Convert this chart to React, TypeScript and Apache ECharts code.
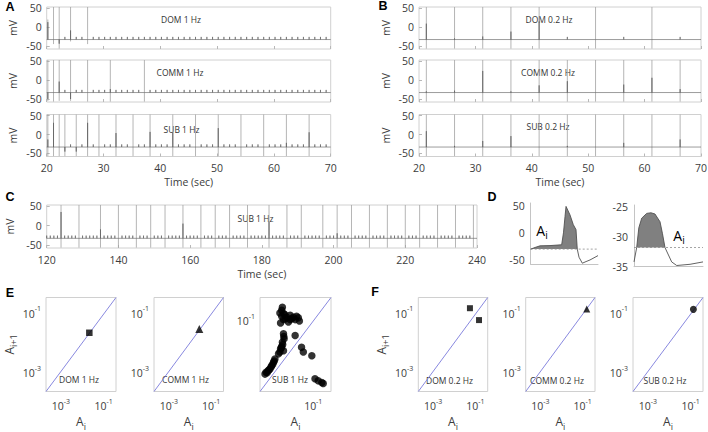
import React, { useEffect, useRef } from 'react';
import * as echarts from 'echarts';

const FONT = '"Open Sans", "Noto Sans", sans-serif';
const TXT = '#3c3c3c';
const BOX = '#d0d0d0';
const TRACE_DARK = '#5a5a5a';
const TRACE_LIGHT = '#a2a2a2';
const DIAG = '#7b7bdb';

// ---------- voltage traces ----------
const mvTicks = [-50, 0, 50];
const V_MIN = -58;
const V_MAX = 53;
const BASELINE_MV = -33;
const STIM_BUMP_MV = -26;

const stim1Hz_A = [20.2, 21.2, 22.2, 23.2, 24.2, 25.2, 26.2, 27.2, 28.2, 29.2, 30.2, 31.2, 32.2, 33.2, 34.2, 35.2, 36.2, 37.2, 38.2, 39.2,
  40.2, 41.2, 42.2, 43.2, 44.2, 45.2, 46.2, 47.2, 48.2, 49.2, 50.2, 51.2, 52.2, 53.2, 54.2, 55.2, 56.2, 57.2, 58.2, 59.2,
  60.2, 61.2, 62.2, 63.2, 64.2, 65.2, 66.2, 67.2, 68.2, 69.2];
const stim02Hz_B = [21.3, 26.3, 31.3, 36.3, 41.3, 46.3, 51.3, 56.3, 61.3, 66.3];
const stim1Hz_C = [120, 121, 122, 123, 124, 125, 126, 127, 128, 129, 130, 131, 132, 133, 134, 135, 136, 137, 138, 139,
  140, 141, 142, 143, 144, 145, 146, 147, 148, 149, 150, 151, 152, 153, 154, 155, 156, 157, 158, 159,
  160, 161, 162, 163, 164, 165, 166, 167, 168, 169, 170, 171, 172, 173, 174, 175, 176, 177, 178, 179,
  180, 181, 182, 183, 184, 185, 186, 187, 188, 189, 190, 191, 192, 193, 194, 195, 196, 197, 198, 199,
  200, 201, 202, 203, 204, 205, 206, 207, 208, 209, 210, 211, 212, 213, 214, 215, 216, 217, 218, 219,
  220, 221, 222, 223, 224, 225, 226, 227, 228, 229, 230, 231, 232, 233, 234, 235, 236, 237, 238, 239];

// A: DOM 1 Hz
const dom1_spikeT = [20.2, 21.2, 22.2, 24.2, 27.2];
const dom1_top = [20, 53, 53, 53, 53];
const dom1_bottom = [-33, -45, -57, -38, -45];
const dom1_dark = [13, -33, -44, -9, -33];
// A: COMM 1 Hz
const comm1_spikeT = [20.2, 21.2, 22.2, 24.2, 27.2, 31.2, 37.2];
const comm1_top = [53, 53, 53, 53, 53, 53, 53];
const comm1_bottom = [-55, -57, -55, -55, -57, -57, -57];
const comm1_dark = [-50, -33, -4, -50, -33, -24, -33];
// A: SUB 1 Hz
const sub1_spikeT = [20.2, 21.2, 22.2, 23.2, 25.2, 27.2, 29.2, 32.2, 35.2, 38.2, 42.2, 46.2, 50.2, 54.2, 58.2, 62.2, 66.2];
const sub1_top = [53, 53, 53, 53, 53, 53, 53, 53, 53, 53, 53, 53, 53, 53, 53, 53, 53];
const sub1_bottom = [-57, -57, -57, -57, -57, -57, -57, -57, -57, -57, -57, -57, -57, -57, -57, -57, -57];
const sub1_dark = [-13, 31, -33, -45, -45, 31, -33, 4, -33, 7, 6, -33, 17, -33, -33, -22, 6];
// B: DOM 0.2 Hz
const dom02_spikeT = [21.3, 26.3, 31.3, 36.3, 41.3, 51.3, 61.3];
const dom02_top = [53, 53, 53, 53, 53, 53, 53];
const dom02_bottom = [-57, -57, -57, -57, -57, -57, -57];
const dom02_dark = [9, -30, -25, -12, 15, -33, -33];
// B: COMM 0.2 Hz
const comm02_spikeT = [21.3, 26.3, 31.3, 36.3, 41.3, 46.3, 51.3, 56.3, 61.3, 66.3];
const comm02_top = [53, 53, 53, 53, 53, 53, 53, 53, 53, 53];
const comm02_bottom = [-57, -57, -57, -57, -57, -57, -57, -57, -57, -57];
const comm02_dark = [-30, -28, 24, -30, -14, -3, -33, -12, 6, -24];
// B: SUB 0.2 Hz
const sub02_spikeT = [21.3, 26.3, 31.3, 36.3, 41.3, 46.3, 51.3, 56.3, 61.3, 66.3];
const sub02_top = [53, 53, 53, 53, 53, 53, 53, 53, 53, 53];
const sub02_bottom = [-57, -57, -57, -57, -57, -57, -57, -57, -57, -57];
const sub02_dark = [9, -30, -17, -4, -33, -30, -33, -22, -33, -13];
// C: SUB 1 Hz, 120-240 s
const subC_spikeT = [124, 129, 135, 140, 145, 149, 153, 158, 163, 167, 171, 176, 182, 187, 191, 197, 201, 205, 210, 215, 220, 224, 229, 234, 239];
const subC_top = [53, 53, 53, 53, 53, 53, 53, 53, 53, 53, 53, 53, 53, 53, 53, 53, 53, 53, 53, 53, 53, 53, 53, 53, 53];
const subC_bottom = [-57, -57, -57, -57, -57, -57, -57, -57, -57, -57, -57, -57, -57, -57, -57, -57, -57, -57, -57, -57, -57, -57, -57, -57, -57];
const subC_dark = [35, -33, -10, -33, -33, -33, -33, 5, -33, -33, -33, -33, 10, -33, -33, -33, -20, -33, -33, -33, -33, -33, -33, -33, -33];

// ---------- D: single events ----------
const dL_t = [0, 6.4, 13.8, 28.7, 46, 48.7, 51, 52.5, 58.4, 63.3, 67.3, 69.2, 71.8, 76.7, 82.2, 88.1, 100];
const dL_v = [-30, -27, -24, -23.5, -22, 0, 30, 48.7, 33, 15, 6, -30, -45, -56, -53, -50, -42];
const dL_threshold = -30;
const dL_ticks = [-50, 0, 50];
const dR_t = [0, 3.9, 7, 11.2, 18.4, 24.6, 30.4, 37.7, 41.3, 44.9, 54.6, 61.9, 81.2, 100];
const dR_v = [-34.2, -31.8, -28.5, -26.9, -26.1, -26.0, -26.2, -27.5, -29.5, -31.8, -34.2, -34.8, -34.6, -34.2];
const dR_threshold = -31.8;
const dR_ticks = [-35, -30, -25];

// ---------- E / F: return maps ----------
const dom1Hz_Ai = [0.0214];
const dom1Hz_Ai1 = [0.0224];
const comm1Hz_Ai = [0.0275];
const comm1Hz_Ai1 = [0.030];
const sub1Hz_Ai = [0.0135, 0.0129, 0.0115, 0.0145, 0.0129, 0.0158, 0.0178, 0.0224, 0.0275, 0.0339, 0.0380, 0.0224, 0.0309, 0.0407, 0.0145, 0.0120, 0.0200, 0.0166, 0.0251,
  0.0145, 0.0151, 0.0135, 0.0129, 0.0120, 0.0115, 0.0105, 0.0145, 0.0309, 0.0468, 0.0525, 0.0912, 0.0138, 0.0126, 0.0148,
  0.00832, 0.00759, 0.00676, 0.00603, 0.00537, 0.00468, 0.00437, 0.00501, 0.00562, 0.00646, 0.00724, 0.00794,
  0.112, 0.138, 0.174, 0.191];
const sub1Hz_Ai1 = [0.195, 0.170, 0.148, 0.145, 0.126, 0.138, 0.120, 0.132, 0.120, 0.126, 0.117, 0.107, 0.107, 0.100, 0.107, 0.0912, 0.0955, 0.112, 0.112,
  0.0537, 0.0417, 0.0355, 0.0288, 0.0257, 0.0219, 0.0200, 0.0234, 0.0490, 0.0275, 0.0219, 0.0182, 0.0316, 0.0269, 0.0468,
  0.0155, 0.0132, 0.0112, 0.00955, 0.00871, 0.00813, 0.00741, 0.00794, 0.00912, 0.0105, 0.0120, 0.0141,
  0.00589, 0.00537, 0.00490, 0.00468];
const dom02Hz_Ai = [0.055, 0.148];
const dom02Hz_Ai1 = [0.151, 0.060];
const comm02Hz_Ai = [0.155];
const comm02Hz_Ai1 = [0.141];
const sub02Hz_Ai = [0.135];
const sub02Hz_Ai1 = [0.138];

const logX = [Math.pow(10, -3.7), Math.pow(10, -0.42)];
const logY = [Math.pow(10, -3.63), Math.pow(10, -0.46)];
const logSub = [Math.pow(10, -2.5), Math.pow(10, -0.5)];
const expLabels = [-3, -1];
const expLabelsSub = [-1];

// ---------- helpers ----------
const rich = (size: number) => ({
  b: { fontSize: size, lineHeight: size + 6, fontFamily: FONT, color: TXT },
  sub: { fontSize: Math.round(size * 0.72), lineHeight: 8, verticalAlign: 'bottom', fontFamily: FONT, color: TXT },
  sup: { fontSize: Math.round(size * 0.68), lineHeight: 8, verticalAlign: 'top', fontFamily: FONT, color: TXT },
});

function darkTrace(stims: number[], spikeT: number[], dark: number[], x0: number, x1: number) {
  const pts: any[] = [[x0, BASELINE_MV]];
  stims.forEach((t) => {
    const i = spikeT.indexOf(t);
    const v = i >= 0 ? dark[i] : STIM_BUMP_MV;
    pts.push([t, BASELINE_MV], [t, v], [t, BASELINE_MV]);
  });
  pts.push([x1, BASELINE_MV]);
  return pts;
}
function lightSpikes(spikeT: number[], top: number[], bottom: number[]) {
  const pts: any[] = [];
  spikeT.forEach((t, i) => {
    pts.push([t, bottom[i]], [t, top[i]], [t, '-']);
  });
  return pts;
}

const axisText = { color: TXT, fontSize: 10.5, fontFamily: FONT };

export default function App() {
  const ref = useRef<HTMLDivElement>(null);
  useEffect(() => {
    document.body.style.margin = '0';
    if (!ref.current) return;
    const chart = echarts.init(ref.current, undefined, { renderer: 'svg' });

    const grids: any[] = [];
    const xAxes: any[] = [];
    const yAxes: any[] = [];
    const series: any[] = [];

    const addTrace = (left: number, top: number, width: number, height: number, xmin: number, xmax: number, xint: number, showX: boolean,
      stims: number[], spikeT: number[], tops: number[], bottoms: number[], dark: number[]) => {
      const i = grids.length;
      grids.push({ left, top, width, height, show: true, borderColor: BOX, borderWidth: 1, backgroundColor: 'transparent', outerBoundsMode: 'none' });
      xAxes.push({
        gridIndex: i, type: 'value', min: xmin, max: xmax, interval: xint,
        axisLine: { show: false, onZero: false },
        axisTick: { show: true, inside: true, length: 3, lineStyle: { color: '#b8b8b8' } },
        splitLine: { show: false },
        axisLabel: { show: showX, margin: 6, ...axisText },
        name: showX ? 'Time (sec)' : '', nameLocation: 'middle', nameGap: 20, nameTextStyle: axisText,
      });
      yAxes.push({
        gridIndex: i, type: 'value', min: V_MIN, max: V_MAX,
        axisLine: { show: false, onZero: false },
        axisTick: { show: true, inside: true, length: 3, lineStyle: { color: '#b8b8b8' }, customValues: mvTicks },
        splitLine: { show: false },
        axisLabel: { customValues: mvTicks, margin: 5, ...axisText, formatter: (v: number) => (mvTicks.indexOf(v) >= 0 ? String(v) : '') },
        name: 'mV', nameLocation: 'middle', nameRotate: 90, nameGap: 28, nameTextStyle: axisText,
      });
      series.push({
        type: 'line', xAxisIndex: i, yAxisIndex: i, data: lightSpikes(spikeT, tops, bottoms), symbol: 'none', silent: true,
        connectNulls: false, lineStyle: { width: 0.8, color: TRACE_LIGHT }, z: 2,
      });
      series.push({
        type: 'line', xAxisIndex: i, yAxisIndex: i, data: darkTrace(stims, spikeT, dark, xmin, xmax), symbol: 'none', silent: true,
        lineStyle: { width: 0.6, color: TRACE_DARK }, z: 3,
      });
    };

    const aL = 46.7, aW = 284, bL = 419, bW = 282, tops = [7, 60, 114.5], h = 42;
    addTrace(aL, tops[0], aW, h, 20, 70, 10, false, stim1Hz_A, dom1_spikeT, dom1_top, dom1_bottom, dom1_dark);
    addTrace(aL, tops[1], aW, h, 20, 70, 10, false, stim1Hz_A, comm1_spikeT, comm1_top, comm1_bottom, comm1_dark);
    addTrace(aL, tops[2], aW, h, 20, 70, 10, true, stim1Hz_A, sub1_spikeT, sub1_top, sub1_bottom, sub1_dark);
    addTrace(bL, tops[0], bW, h, 20, 70, 10, false, stim02Hz_B, dom02_spikeT, dom02_top, dom02_bottom, dom02_dark);
    addTrace(bL, tops[1], bW, h, 20, 70, 10, false, stim02Hz_B, comm02_spikeT, comm02_top, comm02_bottom, comm02_dark);
    addTrace(bL, tops[2], bW, h, 20, 70, 10, true, stim02Hz_B, sub02_spikeT, sub02_top, sub02_bottom, sub02_dark);
    addTrace(aL, 205, 430.3, 43, 120, 240, 20, true, stim1Hz_C, subC_spikeT, subC_top, subC_bottom, subC_dark);

    // D panels
    const addD = (left: number, top: number, width: number, height: number, ymin: number, ymax: number, ticks: number[],
      t: number[], v: number[], thr: number) => {
      const i = grids.length;
      grids.push({ left, top, width, height, show: false, outerBoundsMode: 'none' });
      xAxes.push({
        gridIndex: i, type: 'value', min: 0, max: 100,
        axisLine: { show: true, onZero: false, lineStyle: { color: '#c4c4c4', width: 1 } },
        axisTick: { show: false }, axisLabel: { show: false }, splitLine: { show: false },
      });
      yAxes.push({
        gridIndex: i, type: 'value', min: ymin, max: ymax,
        axisLine: { show: true, onZero: false, lineStyle: { color: '#c4c4c4', width: 1 } },
        axisTick: { show: false, customValues: ticks }, splitLine: { show: false },
        axisLabel: { customValues: ticks, margin: 6, ...axisText, formatter: (val: number) => (ticks.indexOf(val) >= 0 ? String(val) : '') },
      });
      // shaded part above threshold
      const area: any[] = [];
      let started = false;
      for (let k = 0; k < t.length; k++) {
        if (v[k] >= thr - 1e-9) { area.push([t[k], v[k]]); started = true; }
        else if (started) break;
      }
      series.push({
        type: 'line', xAxisIndex: i, yAxisIndex: i, data: area, symbol: 'none', silent: true,
        lineStyle: { width: 0 }, areaStyle: { color: '#808080', opacity: 1, origin: thr }, z: 2,
      });
      series.push({
        type: 'line', xAxisIndex: i, yAxisIndex: i, data: [[0, thr], [100, thr]], symbol: 'none', silent: true,
        lineStyle: { width: 0.8, color: '#8c8c8c', type: [2, 2] }, z: 3,
      });
      series.push({
        type: 'line', xAxisIndex: i, yAxisIndex: i, data: t.map((x, k) => [x, v[k]]), symbol: 'none', silent: true,
        lineStyle: { width: 0.9, color: '#505050' }, z: 4,
      });
    };
    addD(530.7, 203, 67.3, 61.3, -58, 55, dL_ticks, dL_t, dL_v, dL_threshold);
    addD(634, 205, 69, 61.7, -35, -24.7, dR_ticks, dR_t, dR_v, dR_threshold);

    // E / F panels
    const logFmt = (labels: number[]) => (val: number) => {
      const l = Math.log10(val);
      const e = Math.round(l);
      if (Math.abs(l - e) > 1e-6 || labels.indexOf(e) < 0) return '';
      return `{b|10}{sup|${e}}`;
    };
    const addMap = (left: number, width: number, xr: number[], yr: number[], labels: number[], showYName: boolean,
      ax: number[], ay: number[], symbol: string, size: number) => {
      const i = grids.length;
      grids.push({ left, top: 297.5, width, height: 94, show: true, borderColor: BOX, borderWidth: 1, backgroundColor: 'transparent', outerBoundsMode: 'none' });
      xAxes.push({
        gridIndex: i, type: 'log', logBase: 10, min: xr[0], max: xr[1],
        axisLine: { show: false, onZero: false }, axisTick: { show: false }, splitLine: { show: false },
        axisLabel: { margin: 6, formatter: logFmt(labels), rich: rich(10.5) },
        name: '{b|A}{sub|i}', nameLocation: 'middle', nameGap: 21, nameTextStyle: { rich: rich(12) },
      });
      yAxes.push({
        gridIndex: i, type: 'log', logBase: 10, min: yr[0], max: yr[1],
        axisLine: { show: false, onZero: false }, axisTick: { show: false }, splitLine: { show: false },
        axisLabel: { margin: 5, formatter: logFmt(labels), rich: rich(10.5) },
        name: showYName ? '{b|A}{sub|i+1}' : '', nameLocation: 'middle', nameRotate: 90, nameGap: 28, nameTextStyle: { rich: rich(12) },
      });
      series.push({
        type: 'line', xAxisIndex: i, yAxisIndex: i, data: [[xr[0], yr[0]], [xr[1], yr[1]]], symbol: 'none', silent: true,
        lineStyle: { width: 0.9, color: DIAG }, z: 2,
      });
      series.push({
        type: 'scatter', xAxisIndex: i, yAxisIndex: i, data: ax.map((x, k) => [x, ay[k]]), symbol, symbolSize: size, silent: true,
        itemStyle: { color: '#000' }, z: 3,
      });
    };
    addMap(46, 70, logX, logY, expLabels, true, dom1Hz_Ai, dom1Hz_Ai1, 'rect', 6.5);
    addMap(154, 69.5, logX, logY, expLabels, false, comm1Hz_Ai, comm1Hz_Ai1, 'triangle', 8);
    addMap(260, 71, logSub, logSub, expLabelsSub, false, sub1Hz_Ai, sub1Hz_Ai1, 'circle', 7.5);
    addMap(418.3, 69.4, logX, logY, expLabels, true, dom02Hz_Ai, dom02Hz_Ai1, 'rect', 6);
    addMap(525.7, 69.3, logX, logY, expLabels, false, comm02Hz_Ai, comm02Hz_Ai1, 'triangle', 7);
    addMap(633, 70, logX, logY, expLabels, false, sub02Hz_Ai, sub02Hz_Ai1, 'circle', 7);

    const letter = (text: string, x: number, y: number) => ({
      type: 'text', x, y, style: { text, fill: '#000', font: 'bold 12.5px "Liberation Sans", Arial, sans-serif', textAlign: 'center', textVerticalAlign: 'middle' },
    });
    const label = (text: string, x: number, y: number) => ({
      type: 'text', x, y, style: { text, fill: '#333', font: `8.5px ${FONT}`, textAlign: 'center', textVerticalAlign: 'middle' },
    });
    const ai = (x: number, y: number) => ({
      type: 'text', x, y, style: { text: '{b|A}{sub|i}', rich: rich(14), textAlign: 'center', textVerticalAlign: 'middle' },
    });

    chart.setOption({
      animation: false,
      backgroundColor: '#fff',
      textStyle: { fontFamily: FONT },
      grid: grids,
      xAxis: xAxes,
      yAxis: yAxes,
      series,
      graphic: [
        letter('A', 10, 7), letter('B', 383, 6), letter('C', 10, 197), letter('D', 492, 197), letter('E', 10, 293), letter('F', 375, 292),
        label('DOM 1 Hz', 181, 19.5), label('COMM 1 Hz', 180, 72.5), label('SUB 1 Hz', 181.5, 129),
        label('DOM 0.2 Hz', 549, 19.5), label('COMM 0.2 Hz', 548, 72.5), label('SUB 0.2 Hz', 548, 126.5),
        label('SUB 1 Hz', 255.5, 218.5),
        label('DOM 1 Hz', 79, 379), label('COMM 1 Hz', 185.5, 379), label('SUB 1 Hz', 290, 379),
        label('DOM 0.2 Hz', 449.5, 380), label('COMM 0.2 Hz', 557, 380), label('SUB 0.2 Hz', 665, 380),
        ai(542, 230), ai(679, 235),
      ],
    });
    return () => chart.dispose();
  }, []);
  return <div ref={ref} style={{ width: 708, height: 432 }} />;
}
